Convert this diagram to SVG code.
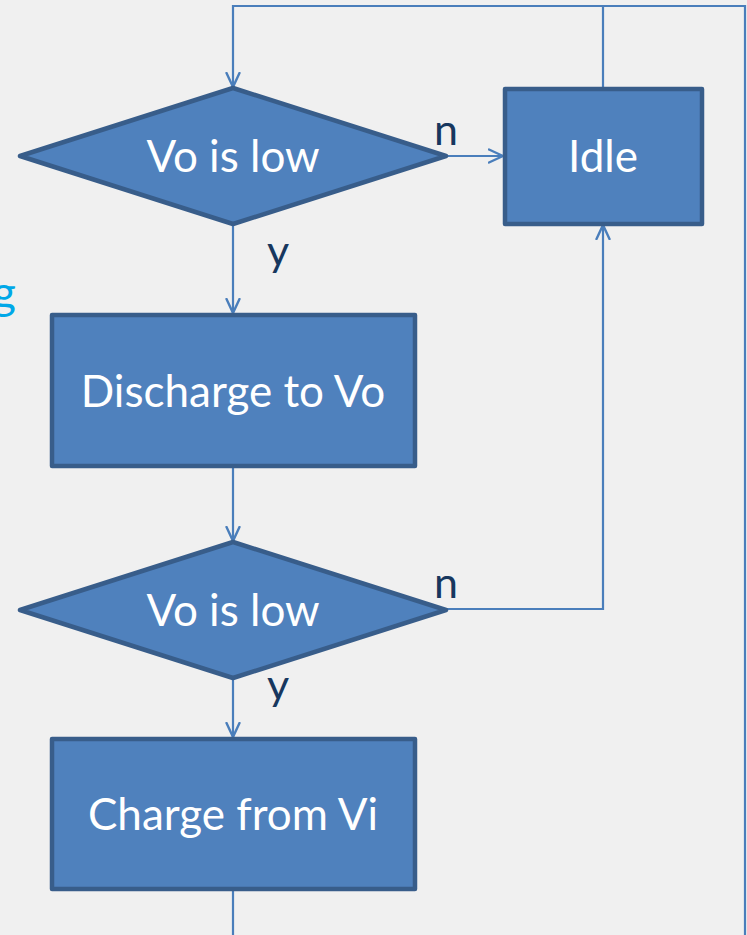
<svg xmlns="http://www.w3.org/2000/svg" width="747" height="935" viewBox="0 0 747 935">
  <style>
    .shape { fill: #4f81bd; stroke: #385d8a; stroke-width: 4.5; stroke-linejoin: round; }
    .label { font-family: Lato, "Open Sans", sans-serif; font-size: 44px; fill: #ffffff; text-anchor: middle; }
    .branch { font-family: Lato, "Open Sans", sans-serif; font-size: 43px; fill: #17375e; }
    .wire { fill: none; stroke: #4a7ebb; stroke-width: 2.2; }
  </style>
  <defs>
    <marker id="open-arrow" viewBox="0 0 16 16" refX="15" refY="8" markerWidth="16" markerHeight="16" markerUnits="userSpaceOnUse" orient="auto">
      <path d="M1,1.5 L15,8 L1,14.5" fill="none" stroke="#4a7ebb" stroke-width="2.4" stroke-linecap="round" stroke-linejoin="round"/>
    </marker>
  </defs>
  <rect width="747" height="935" fill="#f0f0f0"/>

  <!-- caption fragment running off the left edge -->
  <text x="16" y="309" font-family="Lato, 'Open Sans', sans-serif" font-size="46" fill="#00a8e8" text-anchor="end">g</text>

  <g id="connectors">
    <!-- loop back from the bottom, over the top, into the first test -->
    <polyline class="wire" points="233,890 233,935"/>
    <polyline class="wire" points="745,935 745,6 233,6 233,87" marker-end="url(#open-arrow)"/>
    <polyline class="wire" points="603,87 603,6"/>
    <polyline class="wire" points="446,156 503,156" marker-end="url(#open-arrow)"/>
    <polyline class="wire" points="233,224 233,313" marker-end="url(#open-arrow)"/>
    <polyline class="wire" points="233,467 233,541" marker-end="url(#open-arrow)"/>
    <polyline class="wire" points="446,609 603,609 603,225" marker-end="url(#open-arrow)"/>
    <polyline class="wire" points="233,678 233,737" marker-end="url(#open-arrow)"/>
    <text class="branch" x="434" y="145">n</text>
    <text class="branch" x="434" y="598">n</text>
    <text class="branch" x="267" y="266">y</text>
    <text class="branch" x="267" y="700">y</text>
  </g>

  <g id="test-1">
    <polygon class="shape" points="233,88 446,156 233,224 20,156"/>
    <text class="label" x="233" y="172">Vo is low</text>
  </g>

  <g id="idle">
    <rect class="shape" x="505" y="89" width="197" height="135"/>
    <text class="label" x="603" y="172">Idle</text>
  </g>

  <g id="discharge">
    <rect class="shape" x="52" y="315" width="363" height="151"/>
    <text class="label" x="233" y="407">Discharge to Vo</text>
  </g>

  <g id="test-2">
    <polygon class="shape" points="233,542 446,610 233,678 20,610"/>
    <text class="label" x="233" y="626">Vo is low</text>
  </g>

  <g id="charge">
    <rect class="shape" x="52" y="739" width="363" height="150"/>
    <text class="label" x="233" y="830">Charge from Vi</text>
  </g>
</svg>
